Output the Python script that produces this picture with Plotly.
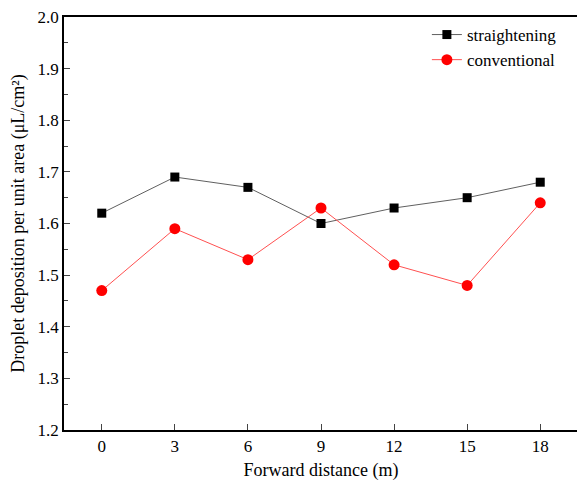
import plotly.graph_objects as go

# forward distance (m) and deposition values
distance = [0, 3, 6, 9, 12, 15, 18]
straightening = [1.62, 1.69, 1.67, 1.60, 1.63, 1.65, 1.68]
conventional = [1.47, 1.59, 1.53, 1.63, 1.52, 1.48, 1.64]

font_name = "Liberation Serif"

fig = go.Figure()
fig.add_trace(go.Scatter(x=distance, y=straightening, name="straightening",
                         mode="lines+markers",
                         line=dict(color="#606060", width=1),
                         marker=dict(symbol="square", size=9, color="black")))
fig.add_trace(go.Scatter(x=distance, y=conventional, name="conventional",
                         mode="lines+markers",
                         line=dict(color="#ff5050", width=1),
                         marker=dict(symbol="circle", size=11, color="#ff0000")))

fig.update_xaxes(range=[-1.55, 19.55], tickvals=distance, ticks="inside", ticklen=6,
                 showgrid=False, zeroline=False, showline=True, linecolor="black",
                 linewidth=1.5, mirror=True, automargin=False,
                 tickfont=dict(size=17), ticklabeloverflow="allow",
                 title=dict(text="Forward distance (m)", standoff=8,
                            font=dict(size=18)))
fig.update_yaxes(range=[1.2, 2.0], dtick=0.1, tickformat=".1f", ticks="inside", ticklen=6,
                 minor=dict(ticks="inside", ticklen=4, dtick=0.05, showgrid=False),
                 showgrid=False, zeroline=False, showline=True, linecolor="black",
                 linewidth=1.5, mirror=True, automargin=False,
                 tickfont=dict(size=17), ticklabeloverflow="allow",
                 title=dict(text="Droplet deposition per unit area (μL/cm²)", standoff=10,
                            font=dict(size=18)))

fig.update_layout(width=585, height=485, plot_bgcolor="white", paper_bgcolor="white",
                  margin=dict(l=56, r=15, t=9, b=63, autoexpand=False),
                  font=dict(family=font_name, size=17, color="black"),
                  legend=dict(x=0.706, y=1.0, xanchor="left", yanchor="top",
                              bgcolor="rgba(0,0,0,0)", font=dict(size=17)))

fig.write_html("out.html")
